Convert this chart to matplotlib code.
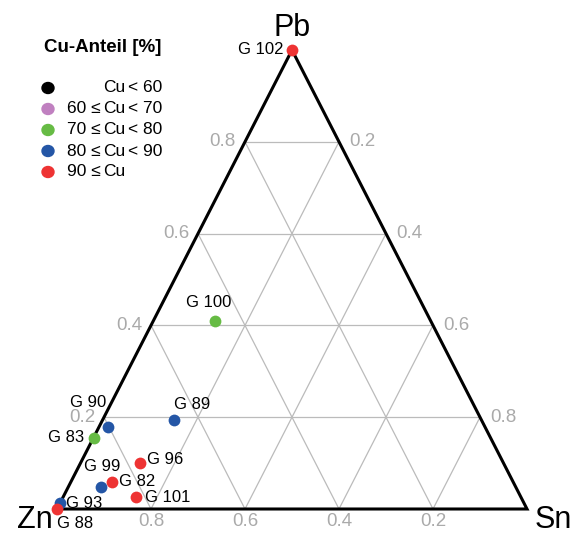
import matplotlib.pyplot as plt
import numpy as np

plt.rcParams['font.family'] = ['Liberation Sans', 'DejaVu Sans']

# sample composition (fractions of Pb / Sn / Zn), colour class by Cu share
names = ["G 102", "G 100", "G 89", "G 90", "G 83", "G 96", "G 82", "G 99", "G 101", "G 93", "G 88"]
pb = [1.00, 0.41, 0.194, 0.179, 0.155, 0.100, 0.059, 0.048, 0.026, 0.013, 0.0]
sn = [0.00, 0.131, 0.152, 0.019, 0.001, 0.127, 0.088, 0.070, 0.155, 0.0, 0.0]
cu_class = [4, 2, 3, 3, 2, 4, 4, 3, 4, 3, 4]

class_colors = ["#000000", "#c080c0", "#66bb44", "#2456a6", "#ee3333"]
class_lower = ["", "60 \u2264", "70 \u2264", "80 \u2264", "90 \u2264"]
class_upper = ["< 60", "< 70", "< 80", "< 90", ""]

# label offsets in pixels (dx, dy, ha)
label_pos = [(-9, 0, "right"), (-6, 18, "center"), (0, 15, "left"), (-2, 24, "right"),
             (-10, 0, "right"), (7, 4, "left"), (7, 0, "left"), (1, 20, "center"),
             (9, 0, "left"), (6, 0, "left"), (0, -14, "left")]

ticks = [0.2, 0.4, 0.6, 0.8]


def to_xy(p, s):
    return s + p / 2.0, p


W, H = 583, 534
fig = plt.figure(figsize=(W / 100, H / 100), dpi=100)
ax = fig.add_axes([57 / W, (H - 509) / H, 470 / W, 459 / H])
ax.set_xlim(0, 1)
ax.set_ylim(0, 1)
ax.axis("off")

px = 0.72  # pixels -> points

# grid lines
for t in ticks:
    # constant Pb
    ax.plot([t / 2, 1 - t / 2], [t, t], color="#bbbbbb", lw=0.9, zorder=1)
    # constant Sn
    ax.plot([t, t + (1 - t) / 2], [0, 1 - t], color="#bbbbbb", lw=0.9, zorder=1)
    # constant Zn
    ax.plot([1 - t, (1 - t) / 2], [0, 1 - t], color="#bbbbbb", lw=0.9, zorder=1)

# outline
ax.plot([0, 1, 0.5, 0], [0, 0, 1, 0], color="black", lw=2.2, zorder=2,
        solid_joinstyle="miter", clip_on=False)

# tick labels
gray = "#aaaaaa"
for t in ticks:
    ax.annotate(f"{t:.1f}", (t / 2, t), xytext=(-9 * px, 0), textcoords="offset points",
                ha="right", va="center", color=gray, fontsize=13.5)
    x, y = to_xy(t, 1 - t)
    ax.annotate(f"{1 - t:.1f}", (x, y), xytext=(10 * px, 0), textcoords="offset points",
                ha="left", va="center", color=gray, fontsize=13.5)
    ax.annotate(f"{1 - t:.1f}", (t, 0), xytext=(0, -13 * px), textcoords="offset points",
                ha="center", va="center", color=gray, fontsize=13.5)

# corner labels
ax.annotate("Pb", (0.5, 1), xytext=(0, 22 * px), textcoords="offset points",
            ha="center", va="center", fontsize=22)
ax.annotate("Zn", (0, 0), xytext=(-22 * px, -11 * px), textcoords="offset points",
            ha="center", va="center", fontsize=22)
ax.annotate("Sn", (1, 0), xytext=(26 * px, -11 * px), textcoords="offset points",
            ha="center", va="center", fontsize=22)

# points
for i in range(len(names)):
    x, y = to_xy(pb[i], sn[i])
    ax.scatter(x, y, s=72, color=class_colors[cu_class[i]], zorder=4, clip_on=False,
               linewidths=0)
    dx, dy, ha = label_pos[i]
    ax.annotate(names[i], (x, y), xytext=(dx * px, dy * px), textcoords="offset points",
                ha=ha, va="center", fontsize=12, zorder=5)

# legend drawn in figure pixels
def fx(v):
    return v / W


def fy(v):
    return 1 - v / H


fig.text(fx(103), fy(48), "Cu-Anteil [%]", ha="center", va="center",
         fontsize=13.5, fontweight="bold")
leg_y = [88, 109, 130, 151, 172]
for i in range(5):
    fig.patches.append(plt.Circle((fx(48), fy(leg_y[i])), 6 / W, color=class_colors[i],
                                  transform=fig.transFigure, figure=fig))
    if class_lower[i]:
        fig.text(fx(67), fy(leg_y[i]), class_lower[i], ha="left", va="center", fontsize=12.5)
    fig.text(fx(103), fy(leg_y[i]), "Cu", ha="left", va="center", fontsize=12.5)
    if class_upper[i]:
        fig.text(fx(128), fy(leg_y[i]), class_upper[i], ha="left", va="center", fontsize=12.5)

fig.savefig("out.png", dpi=100)
